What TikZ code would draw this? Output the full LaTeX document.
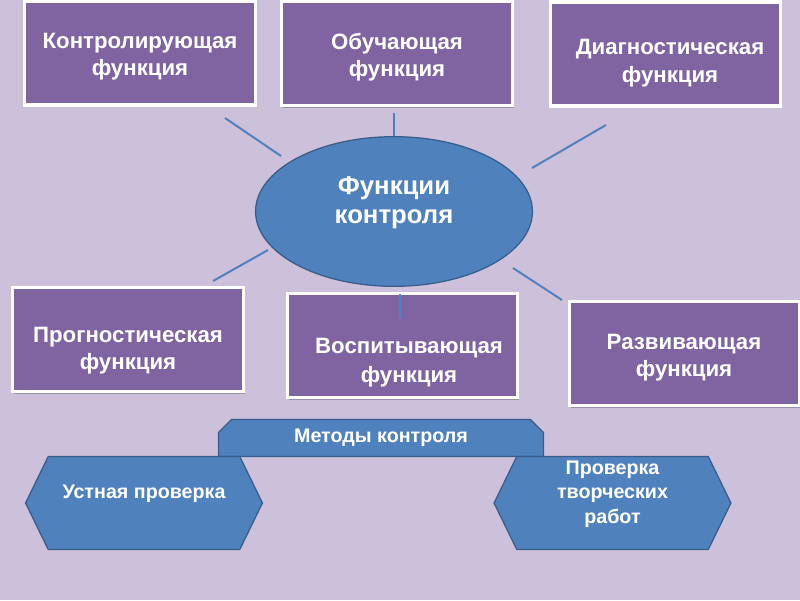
\documentclass[tikz,border=0pt]{standalone}
\usepackage{fontspec}
\setmainfont{Liberation Sans}
\usetikzlibrary{shapes.geometric, shapes.misc, shapes.symbols, shadows, calc}
\definecolor{bgviolet}{RGB}{204,192,218}
\definecolor{funcpurple}{RGB}{128,100,162}
\definecolor{ctrlblue}{RGB}{79,129,189}
\definecolor{ctrledge}{RGB}{56,93,138}

\begin{document}
\begin{tikzpicture}[
    x=0.025cm, y=-0.025cm,
    fbox/.style={rectangle, draw=white, fill=funcpurple, line width=2.4pt,
                 minimum width=5.76cm, minimum height=2.6cm,
                 drop shadow={shadow xshift=1.2pt, shadow yshift=-1.6pt,
                              fill=black, opacity=0.25}},
    ftext/.style={text=white, align=center,
                  font=\bfseries\fontsize{15.8}{19}\selectfont},
    centre/.style={ellipse, draw=ctrledge, fill=ctrlblue, line width=0.9pt,
                   minimum width=6.92cm, minimum height=3.74cm},
    tab/.style={chamfered rectangle, chamfered rectangle corners={north west, north east},
                chamfered rectangle xsep=0.2cm, draw=ctrledge, fill=ctrlblue,
                line width=0.9pt, minimum width=8.12cm, minimum height=0.92cm,
                text=white, font=\bfseries\fontsize{14}{17}\selectfont},
    hexa/.style={signal, signal to=west and east, signal pointer angle=128,
                 draw=ctrledge, fill=ctrlblue, line width=0.9pt,
                 minimum width=5.92cm, minimum height=2.32cm},
    htext/.style={text=white, align=center,
                  font=\bfseries\fontsize{14}{17.4}\selectfont},
    spoke/.style={draw=ctrlblue, line width=1.4pt},
]

\useasboundingbox[fill=bgviolet] (0,0) rectangle (800,600);

% functions of control
\node[fbox] (kontr) at (140,53) {};
\node[fbox] (obuch) at (397,53.5) {};
\node[fbox] (diag) at (665.5,54) {};
\node[fbox] (prog) at (128,339.5) {};
\node[fbox] (vosp) at (402.5,345.5) {};
\node[fbox] (razv) at (684.5,353.5) {};

\node[ftext] (kontrt) at (140,56.5) {Контролирующая\\функция};
\node[ftext] (obucht) at (397,57.5) {Обучающая\\функция};
\node[ftext, font=\bfseries\fontsize{15.8}{19.5}\selectfont] (diagt) at (670,63) {Диагностическая\\функция};
\node[ftext] (progt) at (128,351) {Прогностическая\\функция};
\node[ftext, font=\bfseries\fontsize{15.8}{21}\selectfont] (vospt) at (409,362.5) {Воспитывающая\\функция};
\node[ftext] (razvt) at (684,357.5) {Развивающая\\функция};

\node[centre] (func) at (394,211.5) {};
\node[ftext, font=\bfseries\fontsize{18.3}{20.5}\selectfont] (funct) at (394,203) {Функции\\контроля};

\draw[spoke] ($(kontr)+(85,65)$) -- ($(func)+(-113,-55.5)$);
\draw[spoke] ($(func.north |- obuch.south)+(0,6)$) -- (func.north);
\draw[spoke] ($(diag)+(-59.5,71)$) -- ($(func)+(138,-43.5)$);
\draw[spoke] ($(func)+(-126,38.5)$) -- ($(prog)+(85,-58.5)$);
\draw[spoke] ($(vosp)+(-2.5,-51.5)$) -- ($(vosp)+(-2.5,-27.5)$);
\draw[spoke] ($(func)+(119,56.5)$) -- ($(razv)+(-122.5,-53.5)$);

% methods
\node[tab] (methods) at (381,438) {Методы контроля};
\node[hexa] (oral) at (144,503) {};
\node[hexa] (creative) at (612.5,503) {};
\node[htext] (oralt) at (144,493.5) {Устная проверка};
\node[htext] (creativet) at (612.5,494) {Проверка\\творческих\\работ};

\end{tikzpicture}
\end{document}
